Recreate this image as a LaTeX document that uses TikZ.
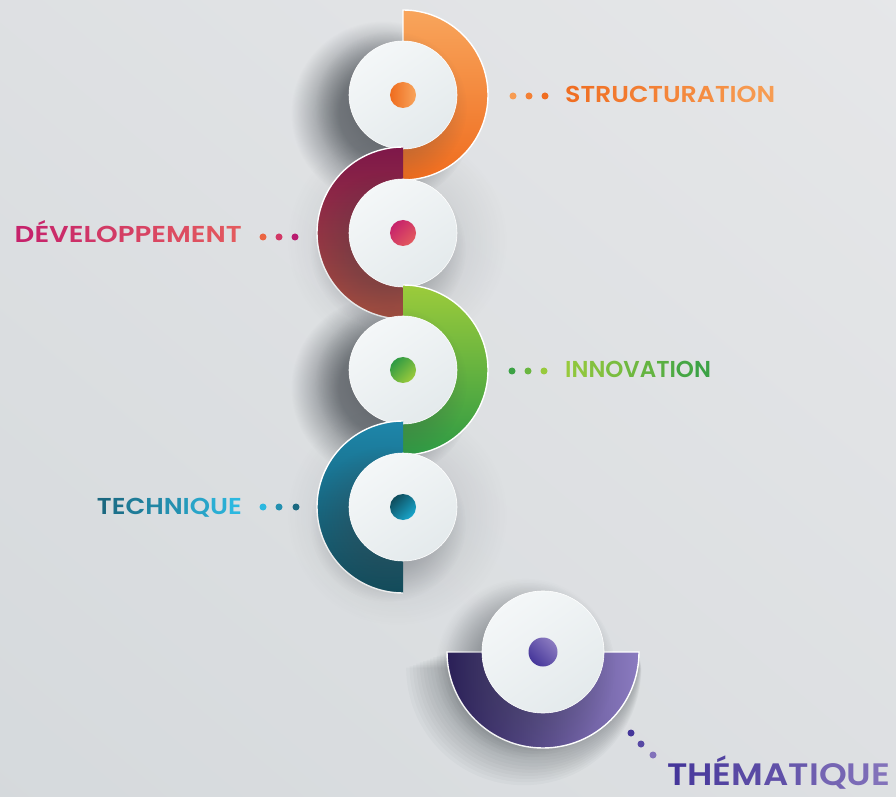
\documentclass[tikz,border=0pt]{standalone}
\usepackage{fontspec}
\newfontfamily\labfont{Poppins SemiBold}[LetterSpace=6]
\usetikzlibrary{fadings}
\pgfdeclareradialshading{softshade}{\pgfpointorigin}{color(0bp)=(pgftransparent!0); color(12bp)=(pgftransparent!0); color(18bp)=(pgftransparent!45); color(25bp)=(pgftransparent!100); color(50bp)=(pgftransparent!100)}
\pgfdeclarefading{softedge}{\pgfuseshading{softshade}}
% background
\definecolor{bgL}{HTML}{E6E7E9}
\definecolor{bgD}{HTML}{D5D9DC}
% rings
\definecolor{orA}{HTML}{F8A55C}
\definecolor{orB}{HTML}{EF6C1E}
\definecolor{mgA}{HTML}{7E1749}
\definecolor{mgB}{HTML}{C5386C}
\definecolor{mgC}{HTML}{AE503E}
\definecolor{grA}{HTML}{9CCB3B}
\definecolor{grB}{HTML}{6BB340}
\definecolor{grC}{HTML}{2E9A44}
\definecolor{tlA}{HTML}{1E86AA}
\definecolor{tlB}{HTML}{18A6CC}
\definecolor{tlC}{HTML}{0F4C5C}
\definecolor{puA}{HTML}{2A1F58}
\definecolor{puB}{HTML}{8B7BC0}
% disks
\definecolor{dkL}{HTML}{F4F7F8}
\definecolor{dkD}{HTML}{E4EAEC}
\definecolor{shC}{HTML}{3A4046}
% label gradients
\definecolor{sA}{HTML}{F06E22}\definecolor{sB}{HTML}{F79C52}
\definecolor{dA}{HTML}{C6226B}\definecolor{dB}{HTML}{E35A5E}
\definecolor{iA}{HTML}{98CA3C}\definecolor{iB}{HTML}{3CA245}
\definecolor{tA}{HTML}{1A6880}\definecolor{tB}{HTML}{2CB8E0}
\definecolor{hA}{HTML}{45369A}\definecolor{hB}{HTML}{8272BA}
\newcommand\gl[3]{\textcolor{#1!#2}{#3}}
\tikzset{
  wdisk/.style={circle, inner sep=0pt, minimum size=108pt, top color=dkL, bottom color=dkD, shading angle=35, draw=white, line width=0.6pt},
  cdot/.style={circle, inner sep=0pt, minimum size=26pt},
  sdot/.style={circle, inner sep=0pt, minimum size=7pt, fill=#1},
  lab/.style={inner sep=0pt, font=\labfont\fontsize{23}{23}\selectfont},
  shad/.style={fill=shC, opacity=#1, path fading=softedge},
  rim/.style={draw=white, line width=1.4pt}
}
\begin{document}
\begin{tikzpicture}[x=1pt,y=1pt]
\useasboundingbox (0,0) rectangle (896,796);
\shade[top color=bgL, bottom color=bgD, shading angle=-40] (-200,-200) rectangle (1096,996);
\clip (0,0) rectangle (896,796);

% ---------- background shadows of the disks
\fill[shad=0.6] (383,683) circle (92);
\fill[shad=0.6] (383,408) circle (92);
\fill[shad=0.1] (397,555) circle (110);
\fill[shad=0.1] (397,281) circle (110);

% ---------- 1: orange (right half)
\shade[top color=orA, bottom color=orB] (403,786) arc[start angle=90, end angle=-90, radius=85] -- cycle;
\draw[rim] (403,755) -- (403,786) arc[start angle=90, end angle=-90, radius=85];
\fill[shad=0.28] (391,689) circle (76);
\node[wdisk] (d1) at (403,701) {};
\node[cdot, left color=orB, right color=orA] (c1) at (d1) {};

% ---------- 2: magenta (left half)
\shade[top color=mgA, middle color=mgB, bottom color=mgC] (403,649) arc[start angle=90, end angle=270, radius=86] -- cycle;
\draw[rim] (403,649) arc[start angle=90, end angle=270, radius=86];
\fill[shad=0.3] (388,546) circle (78);
\node[wdisk] (d2) at (403,563) {};
\node[cdot, left color=dA, right color=dB, shading angle=45] (c2) at (d2) {};

% ---------- 3: green (right half)
\shade[top color=grA, middle color=grB, bottom color=grC] (403,511) arc[start angle=90, end angle=-90, radius=85] -- cycle;
\draw[rim] (403,511) arc[start angle=90, end angle=-90, radius=85];
\fill[shad=0.28] (391,414) circle (76);
\node[wdisk] (d3) at (403,426) {};
\node[cdot, left color=grC, right color=grA, shading angle=45] (c3) at (d3) {};

% ---------- 4: teal (left half)
\shade[top color=tlA, middle color=tlB, bottom color=tlC] (403,375) arc[start angle=90, end angle=270, radius=86] -- cycle;
\draw[rim] (403,375) arc[start angle=90, end angle=270, radius=86];
\fill[shad=0.3] (388,272) circle (78);
\node[wdisk] (d4) at (403,289) {};
\node[cdot, left color=tlC, right color=tlB, shading angle=45] (c4) at (d4) {};

% ---------- 5: purple (bottom half)
\foreach \i in {1,...,12}{
  \fill[shC, opacity=0.03] (543-1.6*\i-96-1.8*\i, 144-1.3*\i) arc[start angle=180, end angle=360, radius=96+1.8*\i] -- cycle;
}
\fill[shad=0.35] (525,128) circle (90);
\shade[left color=puA, right color=puB] (447,144) arc[start angle=180, end angle=360, radius=96] -- cycle;
\draw[rim] (447,144) arc[start angle=180, end angle=360, radius=96] -- cycle;
\fill[shad=0.24] (529,128) circle (86);
\node[wdisk, minimum size=122pt] (d5) at (543,144) {};
\node[cdot, minimum size=29pt, left color=puB, right color=hA, shading angle=-45] (c5) at (d5) {};

% ---------- labels
\node[lab, anchor=base west] (l1) at (565,693) {\scalebox{1.1}[1]{\gl{sA}{100!sB}{S}\gl{sA}{92!sB}{T}\gl{sA}{83!sB}{R}\gl{sA}{75!sB}{U}\gl{sA}{67!sB}{C}\gl{sA}{58!sB}{T}\gl{sA}{50!sB}{U}\gl{sA}{42!sB}{R}\gl{sA}{33!sB}{A}\gl{sA}{25!sB}{T}\gl{sA}{17!sB}{I}\gl{sA}{8!sB}{O}\gl{sA}{0!sB}{N}}};
\node[lab, anchor=base east] (l2) at (242,553) {\scalebox{1.2}[1]{\gl{dA}{100!dB}{D}\gl{dA}{92!dB}{É}\gl{dA}{83!dB}{V}\gl{dA}{75!dB}{E}\gl{dA}{67!dB}{L}\gl{dA}{58!dB}{O}\gl{dA}{50!dB}{P}\gl{dA}{42!dB}{P}\gl{dA}{33!dB}{E}\gl{dA}{25!dB}{M}\gl{dA}{17!dB}{E}\gl{dA}{8!dB}{N}\gl{dA}{0!dB}{T}}};
\node[lab, anchor=base west] (l3) at (565,418) {\gl{iA}{100!iB}{I}\gl{iA}{89!iB}{N}\gl{iA}{78!iB}{N}\gl{iA}{67!iB}{O}\gl{iA}{56!iB}{V}\gl{iA}{44!iB}{A}\gl{iA}{33!iB}{T}\gl{iA}{22!iB}{I}\gl{iA}{11!iB}{O}\gl{iA}{0!iB}{N}};
\node[lab, anchor=base east] (l4) at (242,282) {\scalebox{1.12}[1]{\gl{tA}{100!tB}{T}\gl{tA}{88!tB}{E}\gl{tA}{75!tB}{C}\gl{tA}{62!tB}{H}\gl{tA}{50!tB}{N}\gl{tA}{38!tB}{I}\gl{tA}{25!tB}{Q}\gl{tA}{12!tB}{U}\gl{tA}{0!tB}{E}}};
\node[lab, anchor=base west, font=\labfont\fontsize{31}{31}\selectfont] (l5) at (667,11) {\scalebox{1.14}[1]{\gl{hA}{100!hB}{T}\gl{hA}{89!hB}{H}\gl{hA}{78!hB}{É}\gl{hA}{67!hB}{M}\gl{hA}{56!hB}{A}\gl{hA}{44!hB}{T}\gl{hA}{33!hB}{I}\gl{hA}{22!hB}{Q}\gl{hA}{11!hB}{U}\gl{hA}{0!hB}{E}}};

% ---------- dot leaders
\node[sdot=sB] (a1) at (513,700) {};
\node[sdot=sA!60!sB] (a2) at (529,700) {};
\node[sdot=sA] (a3) at (545,700) {};
\node[sdot=dB!70!orange] (b1) at (263,559) {};
\node[sdot=dA!60!dB] (b2) at (279,559) {};
\node[sdot=dA!80!violet] (b3) at (295,559) {};
\node[sdot=iB] (e1) at (512,425) {};
\node[sdot=iB!50!iA] (e2) at (528,425) {};
\node[sdot=iA] (e3) at (544,425) {};
\node[sdot=tB] (f1) at (263,289) {};
\node[sdot=tA!50!tB] (f2) at (279,289) {};
\node[sdot=tA] (f3) at (296,289) {};
\node[sdot=hA] (g1) at (631,63) {};
\node[sdot=hA!70!hB] (g2) at (641,52) {};
\node[sdot=hB] (g3) at (653,41) {};
\end{tikzpicture}
\end{document}
